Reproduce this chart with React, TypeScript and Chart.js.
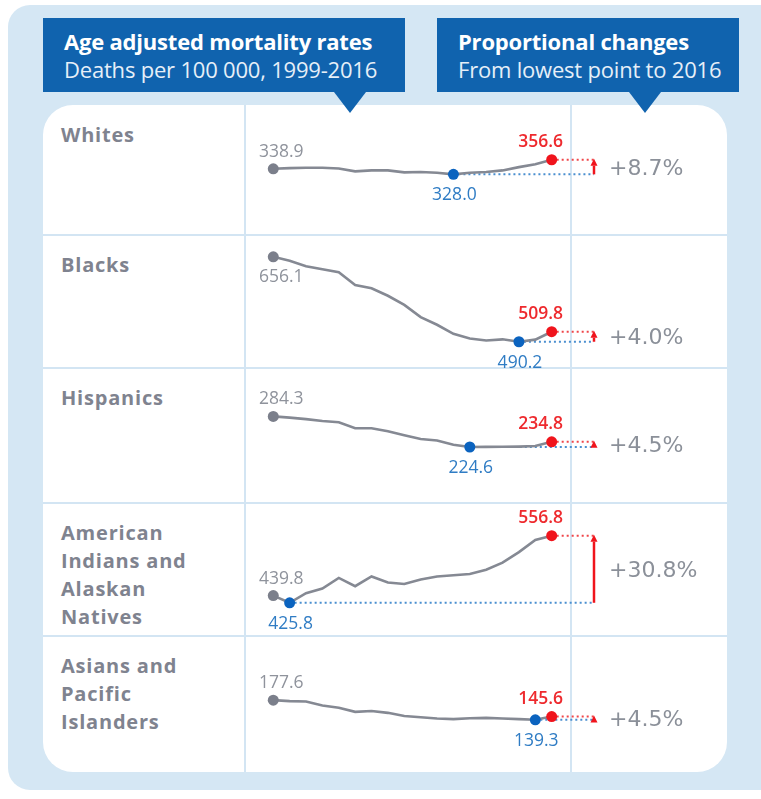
import React, { useEffect, useRef } from "react";
import { Chart, registerables } from "chart.js";
Chart.register(...registerables);

// ---------- DATA ----------
const YEARS = [1999, 2000, 2001, 2002, 2003, 2004, 2005, 2006, 2007, 2008, 2009, 2010, 2011, 2012, 2013, 2014, 2015, 2016];

const WHITES = [338.9, 340.2, 340.8, 340.8, 339.5, 333.8, 335.7, 335.7, 331.9, 332.5, 331.2, 328.0, 331.2, 332.5, 335.7, 342.1, 347.9, 356.6];
const BLACKS = [656.1, 648.4, 637.7, 631.7, 625.8, 600.8, 594.8, 580.0, 562.1, 538.3, 523.4, 505.6, 496.7, 492.5, 494.9, 490.2, 494.3, 509.8];
const HISPANICS = [284.3, 281.9, 278.9, 275.4, 273.0, 261.1, 261.1, 255.2, 247.4, 240.3, 237.3, 229.0, 224.6, 224.9, 225.0, 225.4, 226.4, 234.8];
const AIAN = [439.8, 425.8, 444.6, 453.5, 474.3, 458.2, 477.3, 465.4, 462.4, 471.3, 477.3, 479.7, 482.1, 490.4, 504.1, 524.9, 548.7, 556.8];
const ASIANS = [177.6, 175.7, 175.1, 167.1, 162.8, 154.8, 156.6, 152.9, 146.7, 144.3, 141.8, 140.6, 142.4, 143.1, 141.8, 140.6, 139.3, 145.6];

const SERIES = [WHITES, BLACKS, HISPANICS, AIAN, ASIANS];
const GROUP_LABELS = [
  ["Whites"],
  ["Blacks"],
  ["Hispanics"],
  ["American", "Indians and", "Alaskan", "Natives"],
  ["Asians and", "Pacific", "Islanders"],
];
// where the first-year value label sits relative to its point
const START_LABEL_SIDE = ["above", "below", "above", "above", "above"];
// top of each row's y axis (deaths per 100 000)
const Y_AXIS_MAX = [453, 688, 368, 610, 292];

const TITLE_LEFT = "Age adjusted mortality rates";
const SUB_LEFT = "Deaths per 100 000, 1999-2016";
const TITLE_RIGHT = "Proportional changes";
const SUB_RIGHT = "From lowest point to 2016";

// ---------- STYLE / LAYOUT ----------
const BG = "#d5e7f4";
const HEADER = "#1063ae";
const GRID = "#d3e5f3";
const LABEL_GREY = "#7f838f";
const LINE_GREY = "#858993";
const POINT_GREY = "#7b7f8b";
const BLUE = "#0b63bf";
const BLUE_TEXT = "#2f7cc4";
const RED = "#f0141c";
const RED_TEXT = "#ee2a2e";
const PCT_GREY = "#8b9099";

const ROW_TOPS = [105, 235, 368, 503, 636];
const ROW_HEIGHTS = [130, 133, 135, 133, 136];
const CHART_LEFT = 245;
const CHART_WIDTH = 482;
const FIRST_YEAR_OFFSET = 23.3; // px from canvas left to first year
const PX_PER_YEAR = 16.76;
const PX_PER_UNIT = 0.558;
const ARROW_X = 349; // px within canvas

function makePlugin(rowIdx: number) {
  return {
    id: "annot" + rowIdx,
    beforeDatasetsDraw(chart: any) {
      const { ctx, scales } = chart;
      const xs = scales.x, ys = scales.y;
      const data = SERIES[rowIdx];
      const last = data.length - 1;
      const minV = Math.min(...data);
      const minI = data.indexOf(minV);
      ctx.save();
      ctx.lineWidth = 2;
      ctx.setLineDash([2, 3]);
      ctx.strokeStyle = "#4a8fd0";
      ctx.beginPath();
      ctx.moveTo(xs.getPixelForValue(YEARS[minI]), ys.getPixelForValue(minV));
      ctx.lineTo(ARROW_X, ys.getPixelForValue(minV));
      ctx.stroke();
      ctx.strokeStyle = "#f0464a";
      ctx.beginPath();
      ctx.moveTo(xs.getPixelForValue(YEARS[last]), ys.getPixelForValue(data[last]));
      ctx.lineTo(ARROW_X, ys.getPixelForValue(data[last]));
      ctx.stroke();
      ctx.restore();
    },
    afterDatasetsDraw(chart: any) {
      const { ctx, scales } = chart;
      const xs = scales.x, ys = scales.y;
      const data = SERIES[rowIdx];
      const last = data.length - 1;
      const minV = Math.min(...data);
      const minI = data.indexOf(minV);
      const yLow = ys.getPixelForValue(minV);
      const yLast = ys.getPixelForValue(data[last]);
      ctx.save();
      const head = 7;
      ctx.strokeStyle = RED;
      ctx.fillStyle = RED;
      ctx.lineWidth = 2.5;
      if (yLow - yLast > head) {
        ctx.beginPath();
        ctx.moveTo(ARROW_X, yLow);
        ctx.lineTo(ARROW_X, yLast + head - 1);
        ctx.stroke();
      }
      ctx.beginPath();
      ctx.moveTo(ARROW_X, yLast - 1);
      ctx.lineTo(ARROW_X - 3.5, yLast + head - 1);
      ctx.lineTo(ARROW_X + 3.5, yLast + head - 1);
      ctx.closePath();
      ctx.fill();

      ctx.textAlign = "center";
      ctx.textBaseline = "middle";
      ctx.font = '400 17.5px "Open Sans"';
      const x0 = xs.getPixelForValue(YEARS[0]);
      const y0 = ys.getPixelForValue(data[0]);
      ctx.fillStyle = "#8f939c";
      ctx.fillText(data[0].toFixed(1), x0 + 8, START_LABEL_SIDE[rowIdx] === "above" ? y0 - 17 : y0 + 20);

      ctx.fillStyle = BLUE_TEXT;
      ctx.fillText(minV.toFixed(1), xs.getPixelForValue(YEARS[minI]) + 1, yLow + 21);

      ctx.fillStyle = RED_TEXT;
      ctx.font = '600 17.5px "Open Sans"';
      ctx.fillText(data[last].toFixed(1), xs.getPixelForValue(YEARS[last]) - 11, yLast - 18);

      const pct = ((data[last] / minV - 1) * 100).toFixed(1);
      ctx.textAlign = "left";
      ctx.fillStyle = PCT_GREY;
      ctx.font = '400 22px "DejaVu Sans"';
      ctx.fillText("+" + pct + "%", ARROW_X + 15, (yLow + yLast) / 2 + 2);
      ctx.restore();
    },
  };
}

function RowChart({ rowIdx }: { rowIdx: number }) {
  const ref = useRef<HTMLCanvasElement | null>(null);
  useEffect(() => {
    if (!ref.current) return;
    const data = SERIES[rowIdx];
    const last = data.length - 1;
    const minV = Math.min(...data);
    const minI = data.indexOf(minV);
    const h = ROW_HEIGHTS[rowIdx];
    const xMin = YEARS[0] - FIRST_YEAR_OFFSET / PX_PER_YEAR;
    const xMax = xMin + CHART_WIDTH / PX_PER_YEAR;
    const yMax = Y_AXIS_MAX[rowIdx];
    const yMin = yMax - h / PX_PER_UNIT;
    const radii = data.map((_, i) => (i === 0 || i === minI || i === last ? 5.5 : 0));
    const colors = data.map((_, i) => (i === minI ? BLUE : i === last ? RED : POINT_GREY));
    const chart = new Chart(ref.current, {
      type: "line",
      data: {
        datasets: [
          {
            data: data.map((v, i) => ({ x: YEARS[i], y: v })),
            borderColor: LINE_GREY,
            borderWidth: 2.6,
            tension: 0,
            pointRadius: radii,
            pointHoverRadius: radii,
            pointBackgroundColor: colors,
            pointBorderColor: colors,
            pointBorderWidth: 0,
            clip: false as any,
          },
        ],
      },
      options: {
        animation: false,
        responsive: false,
        maintainAspectRatio: false,
        devicePixelRatio: 1,
        events: [],
        layout: { padding: 0 },
        plugins: { legend: { display: false }, tooltip: { enabled: false } },
        scales: {
          x: { type: "linear", display: false, min: xMin, max: xMax },
          y: { type: "linear", display: false, min: yMin, max: yMax },
        },
      },
      plugins: [makePlugin(rowIdx)],
    });
    return () => chart.destroy();
  }, [rowIdx]);
  return (
    <canvas
      ref={ref}
      width={CHART_WIDTH}
      height={ROW_HEIGHTS[rowIdx]}
      style={{ position: "absolute", left: CHART_LEFT, top: ROW_TOPS[rowIdx], width: CHART_WIDTH, height: ROW_HEIGHTS[rowIdx] }}
    />
  );
}

export default function App() {
  const font = '"Open Sans", "Noto Sans", sans-serif';
  const headerBox = (left: number, width: number, title: string, sub: string, triX: number) => (
    <>
      <div
        style={{
          position: "absolute", left, top: 18, width, height: 74, background: HEADER,
          color: "#fff", fontFamily: font, paddingLeft: 21, paddingTop: 9, boxSizing: "border-box",
        }}
      >
        <div style={{ fontSize: 22, fontWeight: 700, lineHeight: "29px", whiteSpace: "nowrap", letterSpacing: -0.2 }}>{title}</div>
        <div style={{ fontSize: 22, fontWeight: 400, lineHeight: "27px", color: "#e6eff8", whiteSpace: "nowrap", letterSpacing: -0.2 }}>{sub}</div>
      </div>
      <div
        style={{
          position: "absolute", left: triX - 16, top: 92, width: 0, height: 0,
          borderLeft: "16px solid transparent", borderRight: "16px solid transparent", borderTop: `21px solid ${HEADER}`,
        }}
      />
    </>
  );
  return (
    <div style={{ position: "absolute", left: 0, top: 0, width: 761, height: 799, overflow: "hidden", background: "#fff" }}>
      <div style={{ position: "absolute", left: 8, top: 5, width: 790, height: 785, borderRadius: 22, background: BG }} />
      <div style={{ position: "absolute", left: 43, top: 105, width: 684, height: 667, borderRadius: 30, background: "#fff" }} />
      {ROW_TOPS.slice(1).map((t, i) => (
        <div key={"h" + i} style={{ position: "absolute", left: 43, top: t - 1, width: 684, height: 2, background: GRID }} />
      ))}
      {[245, 571].map((x, i) => (
        <div key={"v" + i} style={{ position: "absolute", left: x - 1, top: 105, width: 2, height: 667, background: GRID }} />
      ))}
      {headerBox(43, 362, TITLE_LEFT, SUB_LEFT, 350)}
      {headerBox(437, 302, TITLE_RIGHT, SUB_RIGHT, 645)}
      {GROUP_LABELS.map((lines, i) => (
        <div
          key={"l" + i}
          style={{
            position: "absolute", left: 61, top: ROW_TOPS[i] + 16, fontFamily: font, fontWeight: 700,
            fontSize: 20, lineHeight: "28px", color: LABEL_GREY, letterSpacing: 0.8,
          }}
        >
          {lines.map((l, j) => (
            <div key={j}>{l}</div>
          ))}
        </div>
      ))}
      {SERIES.map((_, i) => (
        <RowChart key={i} rowIdx={i} />
      ))}
    </div>
  );
}
